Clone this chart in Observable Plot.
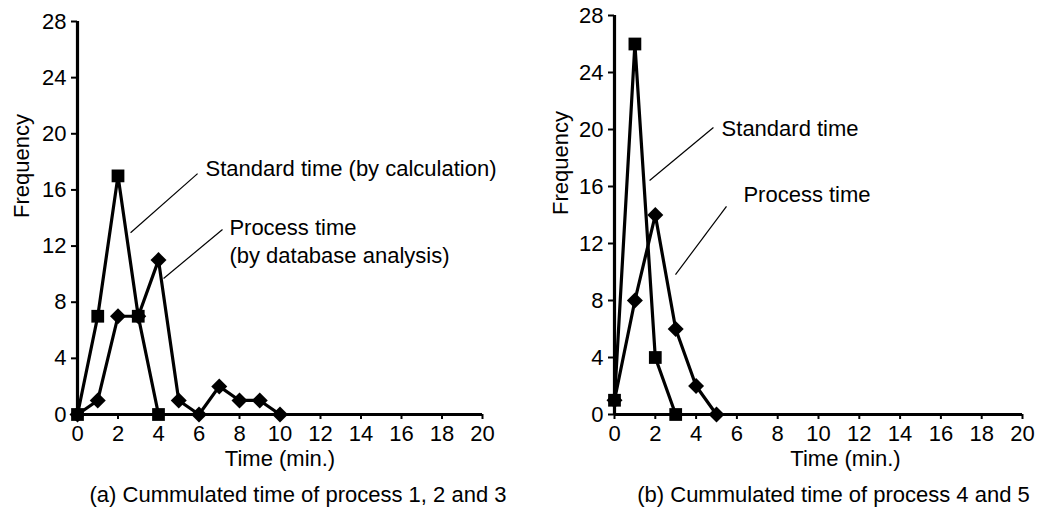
<!DOCTYPE html>
<html><head><meta charset="utf-8">
<script src="https://cdn.jsdelivr.net/npm/d3@7"></script>
<script src="https://cdn.jsdelivr.net/npm/@observablehq/plot@0.6"></script>
<style>
body{margin:0;background:#fff;}
#wrap{display:flex;width:1045px;height:509px;overflow:hidden;}
svg{font-family:"Liberation Sans",Arial,Helvetica,sans-serif;}
</style></head><body><div id="wrap"></div>
<script>
// ---- data ----
const timeStdA = [0, 1, 2, 3, 4];
const standardA = [0, 7, 17, 7, 0];
const timeProcA = [0, 1, 2, 3, 4, 5, 6, 7, 8, 9, 10];
const processA = [0, 1, 7, 7, 11, 1, 0, 2, 1, 1, 0];

const timeStdB = [0, 1, 2, 3];
const standardB = [1, 26, 4, 0];
const timeProcB = [0, 1, 2, 3, 4, 5];
const processB = [1, 8, 14, 6, 2, 0];

const xTicks = [0, 2, 4, 6, 8, 10, 12, 14, 16, 18, 20];
const yTicks = [0, 4, 8, 12, 16, 20, 24, 28];
const xLabel = "Time (min.)";
const yLabel = "Frequency";
const captionA = "(a) Cummulated time of process 1, 2 and 3";
const captionB = "(b) Cummulated time of process 4 and 5";

// annotation labels (data coordinates)
const notesA = [
  {x: 6.32, y: 17.5, text: "Standard time (by calculation)"},
  {x: 7.5, y: 13.3, text: "Process time"},
  {x: 7.5, y: 11.3, text: "(by database analysis)"}
];
const leadersA = [
  {x1: 2.62, y1: 12.95, x2: 5.93, y2: 17.16},
  {x1: 4.25, y1: 9.69, x2: 7.16, y2: 13.18}
];
const notesB = [
  {x: 5.25, y: 20.07, text: "Standard time"},
  {x: 6.32, y: 15.44, text: "Process time"}
];
const leadersB = [
  {x1: 1.72, y1: 16.42, x2: 4.85, y2: 20.14},
  {x1: 2.99, y1: 9.82, x2: 5.49, y2: 14.6}
];

function rows(xs, ys) { return xs.map((x, i) => ({x, y: ys[i]})); }

function panel(cfg) {
  const std = rows(cfg.tStd, cfg.std);
  const proc = rows(cfg.tProc, cfg.proc);
  const fs = 22, fl = 22;
  return Plot.plot({
    width: cfg.width, height: 509,
    marginLeft: cfg.ml, marginRight: cfg.mr, marginTop: cfg.mt, marginBottom: 95,
    style: {fontFamily: '"Liberation Sans", Arial, sans-serif', fontSize: fs + "px", background: "white", color: "black", overflow: "visible"},
    x: {domain: [0, 20], ticks: xTicks},
    y: {domain: [0, 28], ticks: yTicks},
    marks: [
      Plot.axisX({ticks: xTicks, tickSize: 5, tickPadding: 6, strokeWidth: 2, fontSize: fs, label: null, tickFormat: d => String(d)}),
      Plot.axisY({ticks: yTicks, tickSize: 6, tickPadding: 5, strokeWidth: 2, fontSize: fs, label: null, tickFormat: d => String(d)}),
      Plot.ruleY([0], {stroke: "black", strokeWidth: 3.2}),
      Plot.ruleX([0], {stroke: "black", strokeWidth: 3.2}),
      Plot.link(cfg.leaders, {x1: "x1", y1: "y1", x2: "x2", y2: "y2", stroke: "black", strokeWidth: 1.2}),
      Plot.text(cfg.notes, {x: "x", y: "y", text: "text", textAnchor: "start", fontSize: fl, fill: "black"}),
      Plot.line(std, {x: "x", y: "y", stroke: "black", strokeWidth: 3.2}),
      Plot.line(proc, {x: "x", y: "y", stroke: "black", strokeWidth: 3.2}),
      Plot.dot(std, {x: "x", y: "y", symbol: "square", r: 7.2, fill: "black", stroke: "none"}),
      Plot.dot(proc, {x: "x", y: "y", symbol: "diamond2", r: 7.2, fill: "black", stroke: "none"}),
      Plot.text([xLabel], {frameAnchor: "bottom", dy: 51, dx: cfg.xLabelDx, fontSize: fl, fill: "black"}),
      Plot.text([yLabel], {frameAnchor: "left", rotate: -90, dx: cfg.yLabelDx, fontSize: fl, fill: "black"}),
      Plot.text([cfg.caption], {frameAnchor: "bottom", dy: 87, dx: cfg.capDx, fontSize: fl, fill: "black"})
    ]
  });
}

const wrap = document.getElementById("wrap");
wrap.append(panel({
  width: 520, ml: 77, mr: 38, mt: 21,
  tStd: timeStdA, std: standardA, tProc: timeProcA, proc: processA,
  notes: notesA, leaders: leadersA, caption: captionA,
  xLabelDx: 0, yLabelDx: -56, capDx: 18
}));
wrap.append(panel({
  width: 525, ml: 94, mr: 23, mt: 15,
  tStd: timeStdB, std: standardB, tProc: timeProcB, proc: processB,
  notes: notesB, leaders: leadersB, caption: captionB,
  xLabelDx: 27, yLabelDx: -54, capDx: 15
}));
</script></body></html>
